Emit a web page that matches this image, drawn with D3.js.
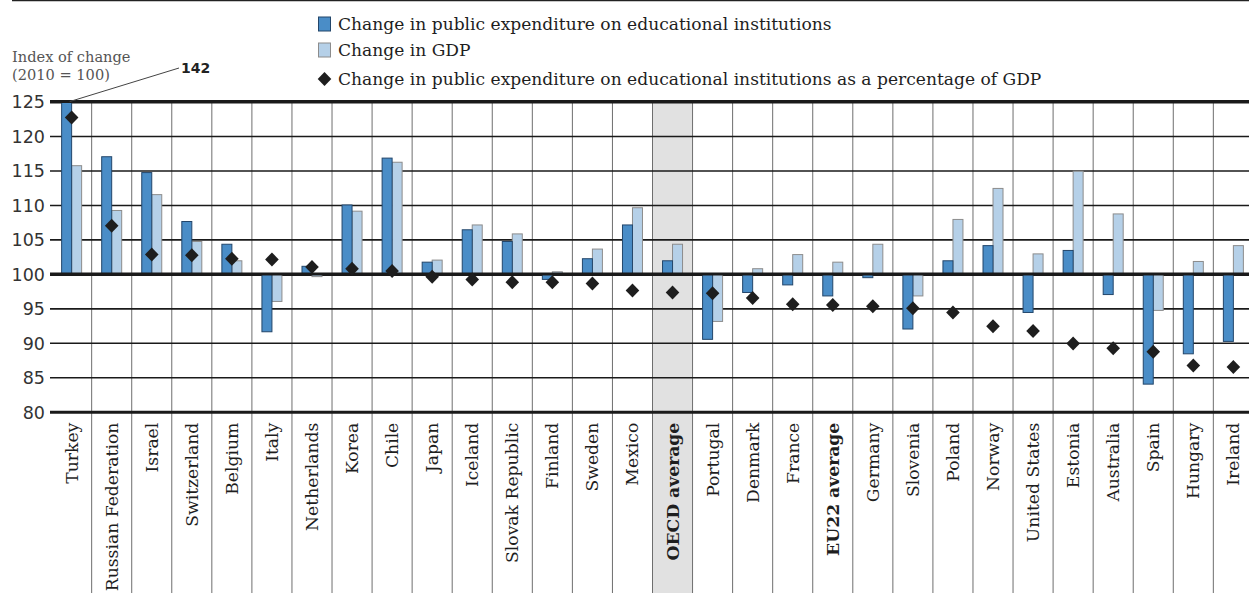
<!DOCTYPE html>
<html><head><meta charset="utf-8">
<script src="https://cdn.jsdelivr.net/npm/d3@7"></script>
<style>
html,body{margin:0;padding:0;background:#fff;}
svg{display:block;}
</style></head>
<body>
<svg id="chart" width="1249" height="593"></svg>
<script>
const categories = ["Turkey","Russian Federation","Israel","Switzerland","Belgium","Italy","Netherlands","Korea","Chile","Japan","Iceland","Slovak Republic","Finland","Sweden","Mexico","OECD average","Portugal","Denmark","France","EU22 average","Germany","Slovenia","Poland","Norway","United States","Estonia","Australia","Spain","Hungary","Ireland"];
const expenditure = [142,117.0,114.7,107.6,104.3,91.6,101.1,110.0,116.8,101.7,106.4,104.7,99.2,102.2,107.1,101.9,90.5,97.3,98.4,96.8,99.45,92.0,101.9,104.1,94.4,103.4,97.0,84.0,88.4,90.2];
const gdp = [115.7,109.2,111.5,104.7,101.9,96.0,99.6,109.1,116.2,102.0,107.1,105.8,100.3,103.6,109.6,104.3,93.1,100.75,102.8,101.7,104.3,96.8,107.9,112.4,102.9,114.9,108.7,94.7,101.8,104.1];
const share = [122.7,107.0,102.8,102.7,102.2,102.1,101.0,100.75,100.4,99.6,99.2,98.8,98.8,98.6,97.6,97.3,97.2,96.5,95.6,95.5,95.3,95.0,94.4,92.4,91.7,89.9,89.2,88.7,86.7,86.5];
const yTicks = [80,85,90,95,100,105,110,115,120,125];
const boldCats = ["OECD average","EU22 average"];
const shadedCat = "OECD average";
const legendLabels = ["Change in public expenditure on educational institutions","Change in GDP","Change in public expenditure on educational institutions as a percentage of GDP"];
const axisTitle = ["Index of change","(2010 = 100)"];
const offscaleLabel = "142";

const svg = d3.select("#chart");
const W = 1249, H = 593;
const plotLeft = 51.6, bandW = 40.06;
const plotTop = 101.6, plotBottom = 411.7;

const x = d3.scaleBand().domain(categories).range([plotLeft, plotLeft + bandW*categories.length]).padding(0);
const xs = d3.scaleBand().domain(["exp","gdp"]).range([x.bandwidth()/2 - 10, x.bandwidth()/2 + 10]).padding(0);
const y = d3.scaleLinear().domain([80,125]).range([plotBottom, plotTop]);

const serif = "'DejaVu Serif', serif";
const sans = "'DejaVu Sans', sans-serif";

// top rule
svg.append("line").attr("x1",12).attr("x2",W).attr("y1",0.5).attr("y2",0.5).attr("stroke","#222").attr("stroke-width",1.5);

// shaded band
svg.append("rect").attr("x",x(shadedCat)).attr("y",plotTop).attr("width",x.bandwidth()).attr("height",H-plotTop).attr("fill","#e1e1e1");

// vertical separators
svg.append("g").selectAll("line").data(categories.slice(1)).join("line")
  .attr("x1",d=>x(d)).attr("x2",d=>x(d)).attr("y1",plotTop).attr("y2",H)
  .attr("stroke","#6e6e6e").attr("stroke-width",1);

// horizontal grid via axis
const yAxis = d3.axisLeft(y).tickValues(yTicks).tickSize(-(W-50)).tickPadding(6).tickFormat(d3.format("d"));
const gy = svg.append("g").attr("transform","translate(50,0)").call(yAxis);
gy.select(".domain").remove();
gy.selectAll(".tick line").attr("stroke","#1a1a1a")
  .attr("stroke-width",d=> (d===80||d===100||d===125) ? 3 : 1.6);
gy.selectAll(".tick text").attr("font-family",sans).attr("font-size",17.5).attr("fill","#333").attr("x",-5).attr("dy","0.36em");

// clip for bars
svg.append("clipPath").attr("id","plotclip").append("rect").attr("x",0).attr("y",plotTop-1).attr("width",W).attr("height",plotBottom-plotTop+1);

const bars = svg.append("g").attr("clip-path","url(#plotclip)");
function barY(v){ return Math.min(y(v), y(100)); }
function barH(v){ return Math.abs(y(v)-y(100)); }
bars.selectAll("rect.gdp").data(categories).join("rect").attr("class","gdp")
  .attr("x",(d)=>x(d)+xs("gdp")).attr("width",xs.bandwidth())
  .attr("y",(d,i)=>barY(gdp[i])).attr("height",(d,i)=>barH(gdp[i]))
  .attr("fill","#b5d0e8").attr("stroke","#8c8c8c").attr("stroke-width",1);
bars.selectAll("rect.exp").data(categories).join("rect").attr("class","exp")
  .attr("x",(d)=>x(d)+xs("exp")).attr("width",xs.bandwidth())
  .attr("y",(d,i)=>barY(Math.min(expenditure[i],126))).attr("height",(d,i)=>barH(Math.min(expenditure[i],126)))
  .attr("fill","#4a8dc7").attr("stroke","#23466a").attr("stroke-width",1);

// redraw baselines over bars
svg.append("line").attr("x1",50).attr("x2",W).attr("y1",y(100)).attr("y2",y(100)).attr("stroke","#1a1a1a").attr("stroke-width",3);
svg.append("line").attr("x1",50).attr("x2",W).attr("y1",y(125)).attr("y2",y(125)).attr("stroke","#1a1a1a").attr("stroke-width",3);

// diamonds
const dia = "M0,-7L6.8,0L0,7L-6.8,0Z";
svg.append("g").selectAll("path").data(categories).join("path")
  .attr("d",dia).attr("transform",(d,i)=>`translate(${x(d)+x.bandwidth()/2},${y(share[i])})`)
  .attr("fill","#1e1e1e");

// category labels
svg.append("g").selectAll("text").data(categories).join("text")
  .attr("transform",d=>`translate(${x(d)+x.bandwidth()/2+6},${plotBottom+11}) rotate(-90)`)
  .attr("text-anchor","end")
  .attr("font-family",serif).attr("font-size",17.2)
  .attr("font-weight",d=>boldCats.includes(d)?"bold":"normal")
  .attr("fill","#1e1e1e").text(d=>d);

// axis title
svg.append("text").attr("x",12).attr("y",62).attr("font-family",serif).attr("font-size",14.6).attr("fill","#555").text(axisTitle[0]);
svg.append("text").attr("x",12).attr("y",80).attr("font-family",serif).attr("font-size",14.6).attr("fill","#555").text(axisTitle[1]);

// offscale annotation
const tx = x(categories[0]) + xs("exp") + xs.bandwidth()/2 + 3;
svg.append("line").attr("x1",tx).attr("y1",y(125)).attr("x2",179).attr("y2",68).attr("stroke","#444").attr("stroke-width",1);
svg.append("text").attr("x",181).attr("y",73).attr("font-family",sans).attr("font-weight","bold").attr("font-size",14).attr("fill","#222").text(offscaleLabel);

// legend
const lg = svg.append("g");
const rows = [24,50,79];
lg.append("rect").attr("x",318.5).attr("y",rows[0]-7).attr("width",12).attr("height",14).attr("fill","#4a8dc7").attr("stroke","#23466a");
lg.append("rect").attr("x",318.5).attr("y",rows[1]-7).attr("width",12).attr("height",14).attr("fill","#b5d0e8").attr("stroke","#8c8c8c");
lg.append("path").attr("d",dia).attr("transform",`translate(324.5,${rows[2]})`).attr("fill","#1e1e1e");
legendLabels.forEach((t,i)=>{
  lg.append("text").attr("x",338).attr("y",rows[i]).attr("dy","0.35em").attr("font-family",serif).attr("font-size",17.1).attr("fill","#1e1e1e").text(t);
});
</script>
</body></html>
